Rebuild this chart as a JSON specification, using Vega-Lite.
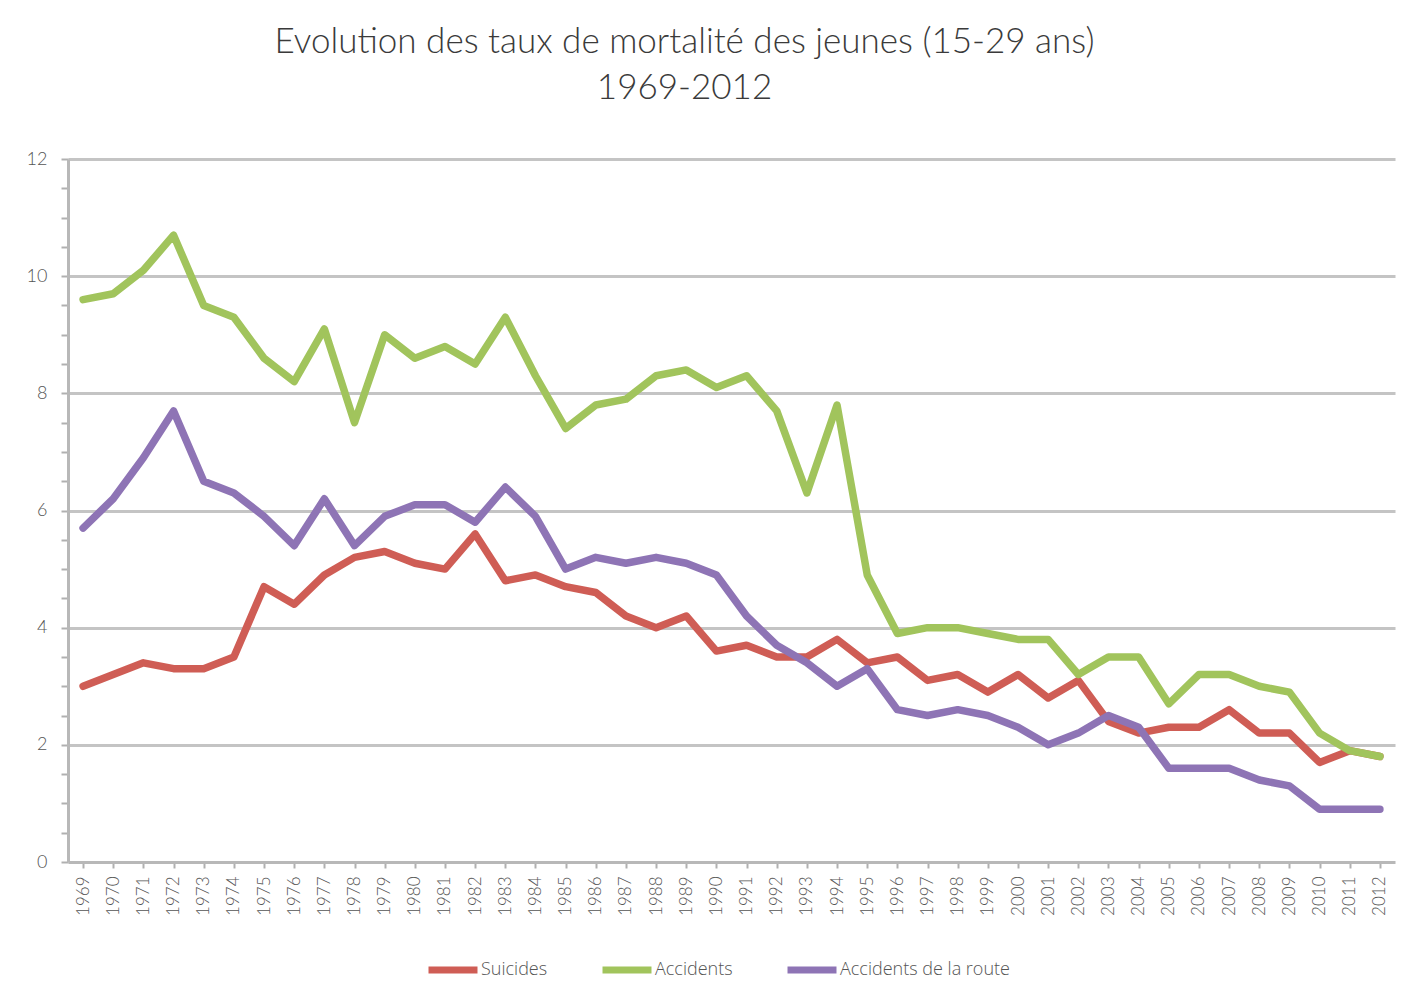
{
  "$schema": "https://vega.github.io/schema/vega-lite/v6.json",
  "autosize": {"type": "none"},
  "width": 1327,
  "height": 703,
  "padding": {"left": 68, "top": 159, "right": 26, "bottom": 139},
  "background": "white",
  "title": {
    "text": ["Evolution des taux de mortalité des jeunes (15-29 ans)", "1969-2012"],
    "font": "Lato",
    "fontSize": 35,
    "fontWeight": 300,
    "color": "#3a3a3a",
    "anchor": "middle",
    "dx": -47,
    "offset": 44,
    "lineHeight": 46
  },
  "data": {"values": [
    {"year": "1969", "Suicides": 3.0, "Accidents": 9.6, "Accidents de la route": 5.7},
    {"year": "1970", "Suicides": 3.2, "Accidents": 9.7, "Accidents de la route": 6.2},
    {"year": "1971", "Suicides": 3.4, "Accidents": 10.1, "Accidents de la route": 6.9},
    {"year": "1972", "Suicides": 3.3, "Accidents": 10.7, "Accidents de la route": 7.7},
    {"year": "1973", "Suicides": 3.3, "Accidents": 9.5, "Accidents de la route": 6.5},
    {"year": "1974", "Suicides": 3.5, "Accidents": 9.3, "Accidents de la route": 6.3},
    {"year": "1975", "Suicides": 4.7, "Accidents": 8.6, "Accidents de la route": 5.9},
    {"year": "1976", "Suicides": 4.4, "Accidents": 8.2, "Accidents de la route": 5.4},
    {"year": "1977", "Suicides": 4.9, "Accidents": 9.1, "Accidents de la route": 6.2},
    {"year": "1978", "Suicides": 5.2, "Accidents": 7.5, "Accidents de la route": 5.4},
    {"year": "1979", "Suicides": 5.3, "Accidents": 9.0, "Accidents de la route": 5.9},
    {"year": "1980", "Suicides": 5.1, "Accidents": 8.6, "Accidents de la route": 6.1},
    {"year": "1981", "Suicides": 5.0, "Accidents": 8.8, "Accidents de la route": 6.1},
    {"year": "1982", "Suicides": 5.6, "Accidents": 8.5, "Accidents de la route": 5.8},
    {"year": "1983", "Suicides": 4.8, "Accidents": 9.3, "Accidents de la route": 6.4},
    {"year": "1984", "Suicides": 4.9, "Accidents": 8.3, "Accidents de la route": 5.9},
    {"year": "1985", "Suicides": 4.7, "Accidents": 7.4, "Accidents de la route": 5.0},
    {"year": "1986", "Suicides": 4.6, "Accidents": 7.8, "Accidents de la route": 5.2},
    {"year": "1987", "Suicides": 4.2, "Accidents": 7.9, "Accidents de la route": 5.1},
    {"year": "1988", "Suicides": 4.0, "Accidents": 8.3, "Accidents de la route": 5.2},
    {"year": "1989", "Suicides": 4.2, "Accidents": 8.4, "Accidents de la route": 5.1},
    {"year": "1990", "Suicides": 3.6, "Accidents": 8.1, "Accidents de la route": 4.9},
    {"year": "1991", "Suicides": 3.7, "Accidents": 8.3, "Accidents de la route": 4.2},
    {"year": "1992", "Suicides": 3.5, "Accidents": 7.7, "Accidents de la route": 3.7},
    {"year": "1993", "Suicides": 3.5, "Accidents": 6.3, "Accidents de la route": 3.4},
    {"year": "1994", "Suicides": 3.8, "Accidents": 7.8, "Accidents de la route": 3.0},
    {"year": "1995", "Suicides": 3.4, "Accidents": 4.9, "Accidents de la route": 3.3},
    {"year": "1996", "Suicides": 3.5, "Accidents": 3.9, "Accidents de la route": 2.6},
    {"year": "1997", "Suicides": 3.1, "Accidents": 4.0, "Accidents de la route": 2.5},
    {"year": "1998", "Suicides": 3.2, "Accidents": 4.0, "Accidents de la route": 2.6},
    {"year": "1999", "Suicides": 2.9, "Accidents": 3.9, "Accidents de la route": 2.5},
    {"year": "2000", "Suicides": 3.2, "Accidents": 3.8, "Accidents de la route": 2.3},
    {"year": "2001", "Suicides": 2.8, "Accidents": 3.8, "Accidents de la route": 2.0},
    {"year": "2002", "Suicides": 3.1, "Accidents": 3.2, "Accidents de la route": 2.2},
    {"year": "2003", "Suicides": 2.4, "Accidents": 3.5, "Accidents de la route": 2.5},
    {"year": "2004", "Suicides": 2.2, "Accidents": 3.5, "Accidents de la route": 2.3},
    {"year": "2005", "Suicides": 2.3, "Accidents": 2.7, "Accidents de la route": 1.6},
    {"year": "2006", "Suicides": 2.3, "Accidents": 3.2, "Accidents de la route": 1.6},
    {"year": "2007", "Suicides": 2.6, "Accidents": 3.2, "Accidents de la route": 1.6},
    {"year": "2008", "Suicides": 2.2, "Accidents": 3.0, "Accidents de la route": 1.4},
    {"year": "2009", "Suicides": 2.2, "Accidents": 2.9, "Accidents de la route": 1.3},
    {"year": "2010", "Suicides": 1.7, "Accidents": 2.2, "Accidents de la route": 0.9},
    {"year": "2011", "Suicides": 1.9, "Accidents": 1.9, "Accidents de la route": 0.9},
    {"year": "2012", "Suicides": 1.8, "Accidents": 1.8, "Accidents de la route": 0.9}
  ]},
  "transform": [
    {"fold": ["Suicides", "Accidents", "Accidents de la route"], "as": ["serie", "valeur"]}
  ],
  "mark": {"type": "line", "strokeWidth": 7.5, "strokeCap": "round", "strokeJoin": "round"},
  "encoding": {
    "x": {
      "field": "year",
      "type": "ordinal",
      "scale": {"type": "point", "padding": 0.5},
      "axis": {
        "title": null,
        "labelAngle": -90,
        "labelFont": "Lato",
        "labelFontSize": 17,
        "labelFontWeight": 300,
        "labelColor": "#555555",
        "labelPadding": 8,
        "domainColor": "#b8b8b8",
        "domainWidth": 3,
        "tickColor": "#b0b0b0",
        "tickWidth": 2,
        "tickSize": 6,
        "grid": false
      }
    },
    "y": {
      "field": "valeur",
      "type": "quantitative",
      "scale": {"domain": [0, 12], "nice": false, "zero": true},
      "axis": {
        "title": null,
        "values": [0, 0.5, 1, 1.5, 2, 2.5, 3, 3.5, 4, 4.5, 5, 5.5, 6, 6.5, 7, 7.5, 8, 8.5, 9, 9.5, 10, 10.5, 11, 11.5, 12],
        "labelExpr": "datum.value % 2 == 0 ? format(datum.value, 'd') : ''",
        "labelFont": "Lato",
        "labelFontSize": 18,
        "labelFontWeight": 300,
        "labelColor": "#555555",
        "labelPadding": 14,
        "domainColor": "#b8b8b8",
        "domainWidth": 3,
        "tickColor": "#b0b0b0",
        "tickWidth": 2,
        "tickSize": 7,
        "grid": true,
        "gridColor": "#c4c4c4",
        "gridWidth": 3,
        "gridOpacity": {"condition": {"test": "datum.value % 2 == 0 && datum.value > 0", "value": 1}, "value": 0}
      }
    },
    "color": {
      "field": "serie",
      "type": "nominal",
      "sort": ["Suicides", "Accidents", "Accidents de la route"],
      "scale": {"domain": ["Suicides", "Accidents", "Accidents de la route"], "range": ["#CF5D55", "#A1C45C", "#8E74B5"]},
      "legend": {
        "title": null,
        "orient": "none",
        "legendX": 357,
        "legendY": 783,
        "direction": "horizontal",
        "symbolType": "stroke",
        "symbolStrokeWidth": 7,
        "symbolSize": 2400,
        "labelFont": "Open Sans",
        "labelFontSize": 18,
        "labelFontWeight": 300,
        "labelColor": "#555555",
        "labelOffset": 0,
        "labelLimit": 400,
        "columnPadding": 40
      }
    }
  },
  "config": {"view": {"stroke": null}}
}
